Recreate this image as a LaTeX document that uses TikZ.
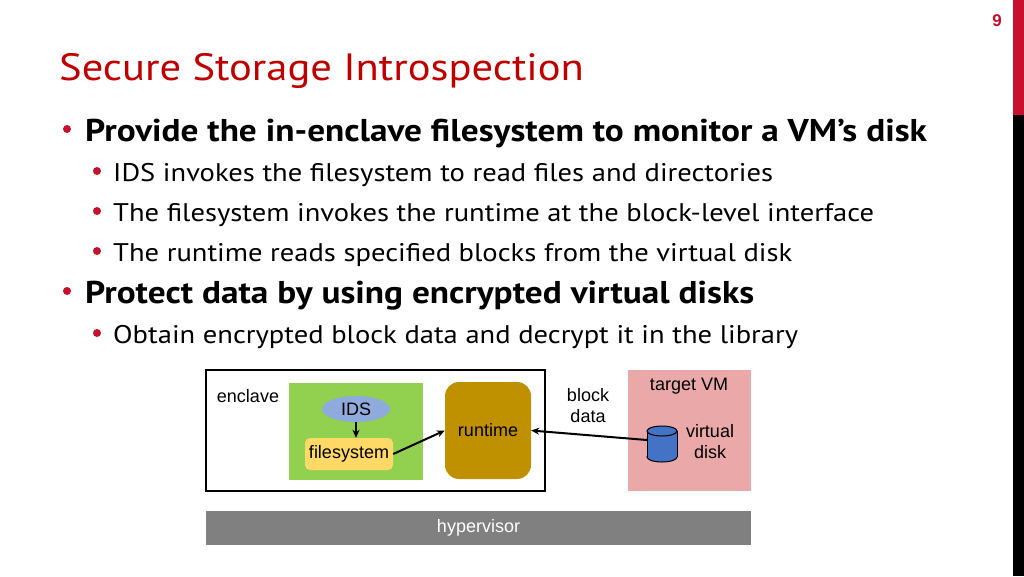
\documentclass[tikz,border=0pt]{standalone}
\usepackage{fontspec}
\setmainfont[FakeStretch=1.12]{PT Sans}
\newfontfamily\arial{Liberation Sans}
\usetikzlibrary{shapes.geometric,arrows.meta}
\definecolor{tred}{RGB}{192,0,0}
\definecolor{bred}{RGB}{200,16,46}
\definecolor{cgreen}{RGB}{146,208,80}
\definecolor{cids}{RGB}{143,170,220}
\definecolor{cfs}{RGB}{255,217,102}
\definecolor{crt}{RGB}{191,144,0}
\definecolor{cvm}{RGB}{234,168,168}
\definecolor{cdisk}{RGB}{68,114,196}
\definecolor{chyp}{RGB}{128,128,128}
\tikzset{
 lvl1/.style={anchor=base west,font=\fontsize{31.5}{34}\selectfont\bfseries,inner sep=0},
 lvl2/.style={anchor=base west,font=\fontsize{25.5}{28}\selectfont,inner sep=0},
 dot/.style={circle,fill=bred,inner sep=0,minimum size=8},
 dfont/.style={font=\arial\fontsize{18}{21}\selectfont},
 dlab/.style={dfont,align=center,inner sep=0},
 arr/.style={-{Stealth[length=8,width=7]},line width=2}
}
\begin{document}
\begin{tikzpicture}[x=1pt,y=-1pt]
\useasboundingbox (0,0) rectangle (1024,576);
\fill[white] (0,0) rectangle (1024,576);
\fill[bred] (1013,0) rectangle (1024,115);
\fill[black] (1013,115) rectangle (1024,576);
\node[text=bred,font=\arial\bfseries\fontsize{17}{18}\selectfont] (pg) at (997,21) {9};
\node[anchor=base west,text=tred,font=\fontsize{38}{44}\selectfont,inner sep=0] (title) at (59,80) {Secure Storage Introspection};
\node[dot] (d1) at (67,129) {}; \node[lvl1] (b1) at (85,141) {Provide the in-enclave filesystem to monitor a VM's disk};
\node[dot] (d2) at (97,171) {}; \node[lvl2] (b2) at (113,181) {IDS invokes the filesystem to read files and directories};
\node[dot] (d3) at (97,211) {}; \node[lvl2] (b3) at (113,221) {The filesystem invokes the runtime at the block-level interface};
\node[dot] (d4) at (97,251) {}; \node[lvl2] (b4) at (113,261) {The runtime reads specified blocks from the virtual disk};
\node[dot] (d5) at (67,291) {}; \node[lvl1] (b5) at (85,303) {Protect data by using encrypted virtual disks};
\node[dot] (d6) at (97,333) {}; \node[lvl2] (b6) at (113,343) {Obtain encrypted block data and decrypt it in the library};
% diagram
\draw[line width=1.2] (206,370) rectangle (545,491);
\fill[cgreen] (289,383) rectangle (423,480);
\fill[cvm] (628,370) rectangle (751,491);
\node[fill=chyp,minimum width=545,minimum height=34,inner sep=0,text=white,dfont] (hyp) at (478.5,528) {hypervisor};
\node[dlab] (encl) at (248,396) {enclave};
\node[ellipse,fill=cids,minimum width=68,minimum height=26,inner sep=0,dfont] (ids) at (356,409) {IDS};
\node[rounded corners=5,fill=cfs,minimum width=88,minimum height=32,inner sep=0,dfont] (fs) at (349,454) {filesystem};
\node[rounded corners=14,fill=crt,minimum width=86,minimum height=97,inner sep=0,dfont] (rt) at (488,430.5) {runtime};
\node[dlab] (bd) at (588,406) {block\\data};
\node[dlab] (tvm) at (689,386) {target VM};
\node[dlab] (vd) at (710,442) {virtual\\disk};
\coordinate (disk) at (647,440);
\fill[cdisk] (647,431) rectangle (677,457);
\draw[line width=1,fill=cdisk] (662,457) ellipse[x radius=15,y radius=5];
\fill[cdisk] (647,431) rectangle (677,457);
\draw[line width=1] (647,431) -- (647,457) (677,431) -- (677,457);
\draw[line width=1,fill=cdisk] (662,431) ellipse[x radius=15,y radius=5];
\draw[arr] (ids.south) -- (ids.south |- fs.north);
\draw[arr] (fs.east) -- (rt.west);
\draw[arr] (disk) -- (rt.east);
\end{tikzpicture}
\end{document}
